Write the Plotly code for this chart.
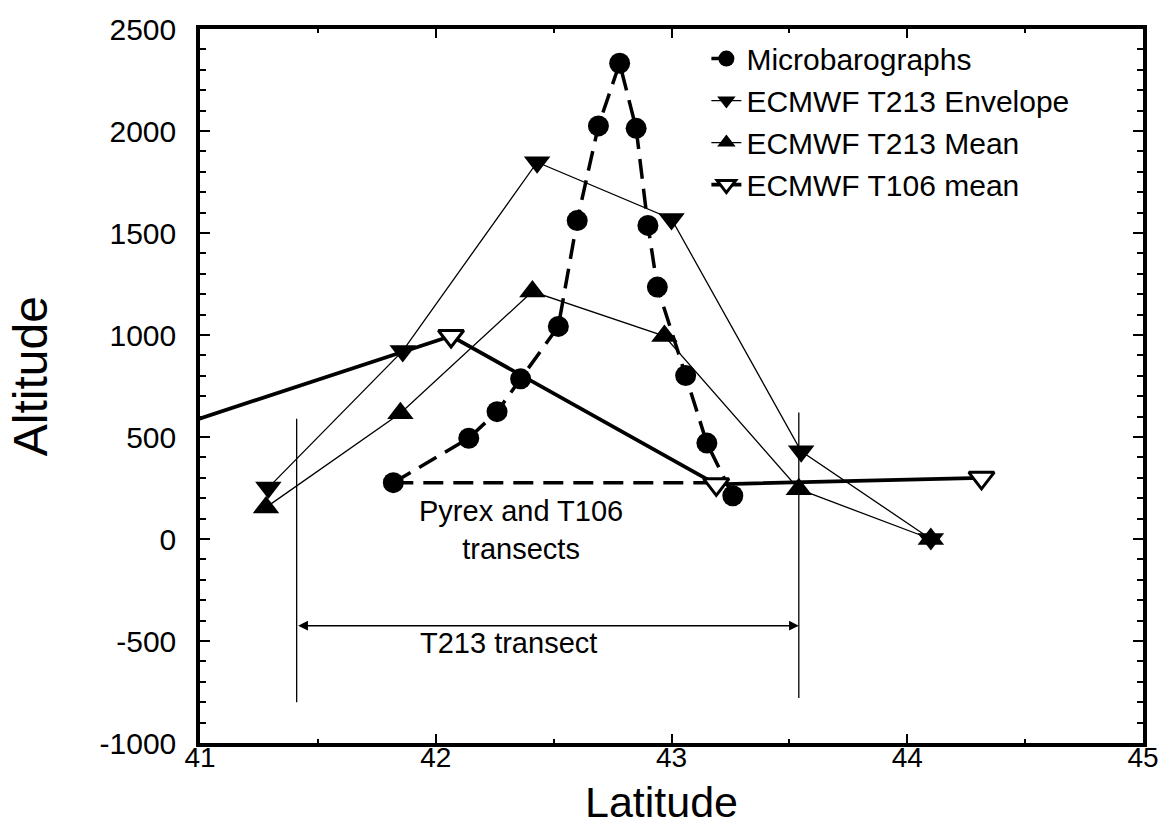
import plotly.graph_objects as go

# ---- data ----
micro_lat = [41.82, 42.14, 42.26, 42.36, 42.52, 42.60, 42.69, 42.78, 42.85, 42.90, 42.94, 43.06, 43.15, 43.26]
micro_alt = [276, 494, 624, 785, 1042, 1561, 2025, 2332, 2013, 1537, 1235, 801, 470, 212]

env_lat = [41.29, 41.86, 42.43, 43.00, 43.55, 44.10]
env_alt = [252, 922, 1847, 1569, 430, 0]

mean_lat = [41.28, 41.85, 42.41, 42.97, 43.54, 44.10]
mean_alt = [155, 616, 1213, 995, 244, 0]

t106_lat = [40.94, 42.065, 43.19, 44.315]
t106_alt = [568, 995, 268, 300]

pyrex_lat = [41.82, 43.19]
pyrex_alt = [276, 276]

transect_left = 41.41
transect_right = 43.54
transect_left_alt = [-800, 590]
transect_right_alt = [-780, 620]
arrow_alt = -425

x_tickvals = [41, 42, 43, 44, 45]
x_ticktext = ["41", "42", "43", "44", "45"]
y_tickvals = [-1000, -500, 0, 500, 1000, 1500, 2000, 2500]
y_ticktext = ["-1000", "-500", "0", "500", "1000", "1500", "2000", "2500"]

FONT = "Liberation Sans, Arial, Helvetica, sans-serif"

fig = go.Figure()

# helper lines (no legend)
fig.add_trace(go.Scatter(x=[transect_left, transect_left], y=transect_left_alt, mode="lines",
                         line=dict(color="black", width=1.3), showlegend=False, hoverinfo="skip"))
fig.add_trace(go.Scatter(x=[transect_right, transect_right], y=transect_right_alt, mode="lines",
                         line=dict(color="black", width=1.3), showlegend=False, hoverinfo="skip"))
fig.add_trace(go.Scatter(x=pyrex_lat, y=pyrex_alt, mode="lines",
                         line=dict(color="black", width=3.5, dash="20px,10px"),
                         showlegend=False, hoverinfo="skip"))

fig.add_trace(go.Scatter(x=micro_lat, y=micro_alt, mode="lines+markers", name="Microbarographs",
                         line=dict(color="black", width=3.5, dash="20px,10px"),
                         marker=dict(symbol="circle", size=21, color="black")))
fig.add_trace(go.Scatter(x=env_lat, y=env_alt, mode="lines+markers", name="ECMWF T213 Envelope",
                         line=dict(color="black", width=1.3),
                         marker=dict(symbol="triangle-down", size=23, color="black")))
fig.add_trace(go.Scatter(x=mean_lat, y=mean_alt, mode="lines+markers", name="ECMWF T213 Mean",
                         line=dict(color="black", width=1.3),
                         marker=dict(symbol="triangle-up", size=23, color="black")))
fig.add_trace(go.Scatter(x=t106_lat, y=t106_alt, mode="lines+markers", name="ECMWF T106 mean",
                         line=dict(color="black", width=3.8),
                         marker=dict(symbol="triangle-down", size=22, color="white",
                                     line=dict(color="black", width=3))))

axis_common = dict(
    showline=True, linecolor="black", linewidth=3.5, mirror="ticks",
    ticks="inside", tickcolor="black", tickwidth=1.5,
    showgrid=False, zeroline=False,
)

fig.update_xaxes(range=[41, 45], tickmode="array", tickvals=x_tickvals, ticktext=x_ticktext, ticklen=9,
                 minor=dict(dtick=0.5, tick0=41, ticklen=4, tickcolor="black", tickwidth=1.5,
                            ticks="inside", showgrid=False),
                 tickfont=dict(family=FONT, size=28, color="black"),
                 ticklabelstandoff=-13, **axis_common)
fig.update_yaxes(range=[-1000, 2500], tickmode="array", tickvals=y_tickvals, ticktext=y_ticktext, ticklen=10,
                 minor=dict(dtick=100, tick0=0, ticklen=6, tickcolor="black", tickwidth=1.5,
                            ticks="inside", showgrid=False),
                 tickfont=dict(family=FONT, size=30, color="black"),
                 ticklabelstandoff=14, **axis_common)

fig.add_annotation(x=transect_right, y=arrow_alt, ax=transect_left, ay=arrow_alt,
                   xref="x", yref="y", axref="x", ayref="y", text="",
                   showarrow=True, arrowhead=2, arrowside="end+start",
                   arrowsize=1.3, arrowwidth=1.5, arrowcolor="black")
fig.add_annotation(x=42.31, y=-510, xref="x", yref="y", text="T213 transect", showarrow=False,
                   font=dict(family=FONT, size=29, color="black"))
fig.add_annotation(x=42.36, y=44, xref="x", yref="y", text="Pyrex and T106<br>transects", showarrow=False,
                   font=dict(family=FONT, size=29, color="black"))

# axis titles
fig.add_annotation(x=0.489, y=-0.1191, xref="paper", yref="paper", text="Latitude", showarrow=False,
                   yanchor="bottom", font=dict(family=FONT, size=43, color="black"))
fig.add_annotation(x=-0.18, y=0.514, xref="paper", yref="paper", text="Altitude", showarrow=False,
                   textangle=-90, xanchor="center", yanchor="middle",
                   font=dict(family=FONT, size=48, color="black"))

fig.update_layout(
    width=1171, height=830,
    margin=dict(l=200, r=28, t=21, b=87),
    paper_bgcolor="white", plot_bgcolor="white",
    font=dict(family=FONT, color="black"),
    legend=dict(x=0.537, y=0.995, xanchor="left", yanchor="top",
                bgcolor="rgba(0,0,0,0)", borderwidth=0,
                font=dict(family=FONT, size=30, color="black"),
                tracegroupgap=0),
)

fig.write_html("out.html")
